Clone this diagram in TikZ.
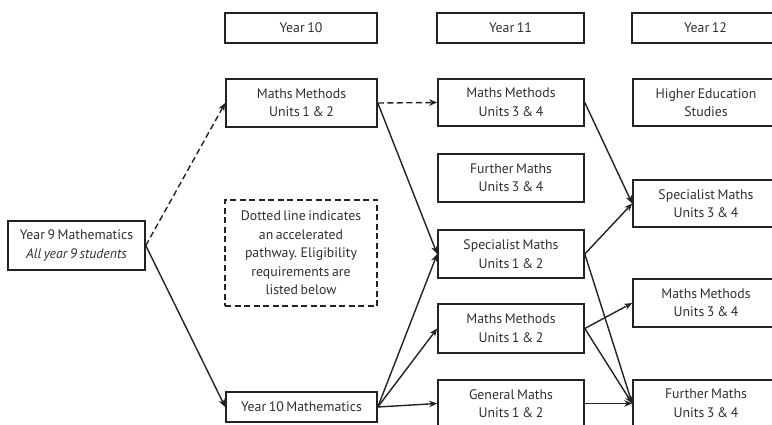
\documentclass[tikz,border=0pt]{standalone}
\usepackage{fontspec}
\setmainfont[WordSpace=0.7]{PT Sans}
\usetikzlibrary{arrows.meta}
\definecolor{txt}{HTML}{303030}
\definecolor{ln}{HTML}{222222}
\begin{document}
\begin{tikzpicture}[x=1pt,y=-1pt,
  box/.style={draw=ln,line width=1.6pt,inner sep=0pt,align=center,text=txt,
    font=\fontsize{13.8}{18.5}\selectfont},
  hbox/.style={box,line width=2.6pt,minimum height=30pt},
  unit/.style={box,minimum height=48pt},
  arr/.style={draw=ln,line width=1.4pt,-{Stealth[length=8pt,width=6.5pt]}},
  dsh/.style={dash pattern=on 6pt off 3.5pt}]
\useasboundingbox (0,0) rectangle (772,425);
\clip (0,0) rectangle (772,425);
% headers
\node[hbox,minimum width=152pt] (h10) at (301,28) {Year 10};
\node[hbox,minimum width=147pt] (h11) at (510.5,28) {Year 11};
\node[hbox,minimum width=147pt] (h12) at (705.5,28) {Year 12};
% year 9
\node[unit,minimum width=137pt,minimum height=49pt] (y9) at (76.5,245.5) {Year 9 Mathematics\\\textit{All year 9 students}};
% year 10
\node[unit,minimum width=151pt] (mm10) at (301.5,103) {Maths Methods\\Units 1 \& 2};
\node[box,dsh,minimum width=152pt,minimum height=106pt] (note) at (301,253) {Dotted line indicates\\an accelerated\\pathway. Eligibility\\requirements are\\listed below};
\node[box,minimum width=151pt,minimum height=30pt] (y10m) at (301.5,407) {Year 10 Mathematics};
% year 11
\node[unit,minimum width=146pt,minimum height=47pt] (mm11) at (511,102.5) {Maths Methods\\Units 3 \& 4};
\node[unit,minimum width=146pt] (fm11) at (511,178) {Further Maths\\Units 3 \& 4};
\node[unit,minimum width=146pt] (sm11) at (511,254) {Specialist Maths\\Units 1 \& 2};
\node[unit,minimum width=146pt,minimum height=49pt] (mmb11) at (511,328.5) {Maths Methods\\Units 1 \& 2};
\node[unit,minimum width=146pt,minimum height=47pt] (gm11) at (511,403.5) {General Maths\\Units 1 \& 2};
% year 12
\node[unit,minimum width=146pt,minimum height=47pt] (he12) at (706,102.5) {Higher Education\\Studies};
\node[unit,minimum width=146pt,minimum height=47pt] (sm12) at (706,203.5) {Specialist Maths\\Units 3 \& 4};
\node[unit,minimum width=146pt,minimum height=48pt] (mm12) at (706,303) {Maths Methods\\Units 3 \& 4};
\node[unit,minimum width=146pt,minimum height=47pt] (fm12) at (706,403.5) {Further Maths\\Units 3 \& 4};
% connectors
\draw[arr,dsh] (y9.east) -- (mm10.west);
\draw[arr] (y9.east) -- (y10m.west);
\draw[arr,dsh] (mm10.east) -- (mm11.west);
\draw[arr] (mm10.east) -- (sm11.west);
\draw[arr] (y10m.east) -- (sm11.west);
\draw[arr] (y10m.east) -- (mmb11.west);
\draw[arr] (y10m.east) -- (gm11.west);
\draw[arr] (mm11.east) -- (sm12.west);
\draw[arr] (sm11.east) -- (sm12.west);
\draw[arr] (sm11.east) -- (fm12.west);
\draw[arr] (mmb11.east) -- (mm12.west);
\draw[arr] (mmb11.east) -- (fm12.west);
\draw[arr] (gm11.east) -- (fm12.west);
\end{tikzpicture}
\end{document}
